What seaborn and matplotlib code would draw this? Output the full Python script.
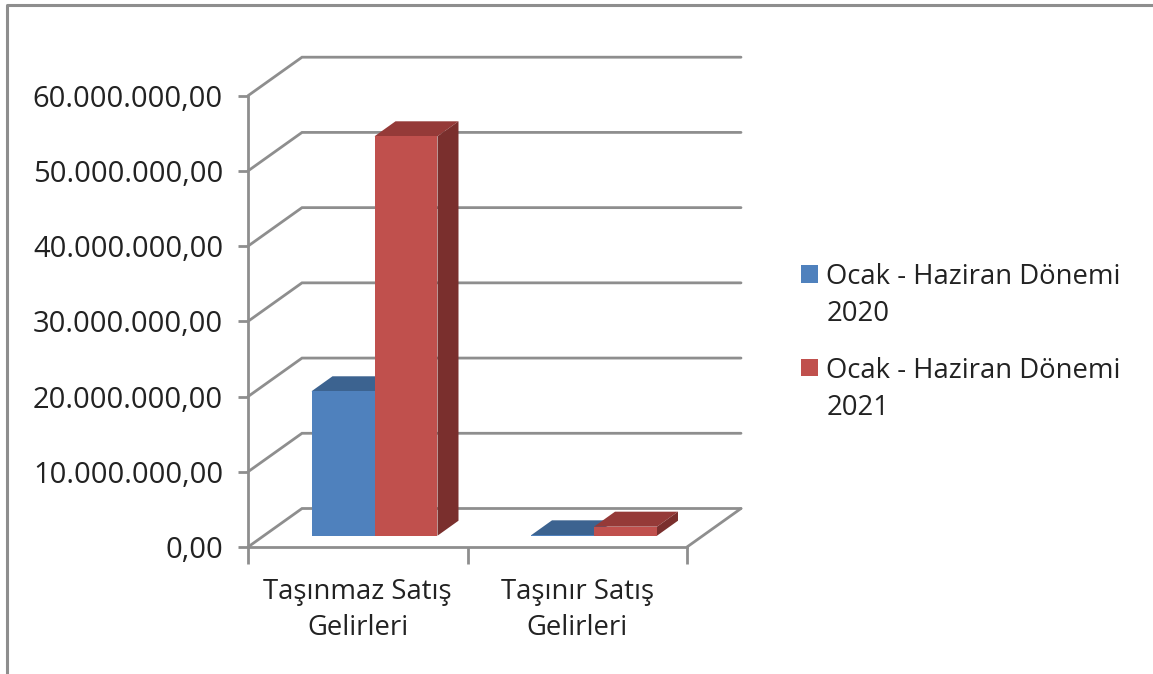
"""3D-look column chart: sales income, Jan-Jun 2020 vs 2021."""
import pandas as pd
import matplotlib.pyplot as plt
import seaborn as sns
from matplotlib.lines import Line2D
from matplotlib.patches import Polygon

categories = ["Taşınmaz Satış\nGelirleri", "Taşınır Satış\nGelirleri"]
series_names = ["Ocak - Haziran Dönemi\n2020", "Ocak - Haziran Dönemi\n2021"]
values_2020 = [19200000, 50000]
values_2021 = [53100000, 1200000]
y_ticks = [0, 10000000, 20000000, 30000000, 40000000, 50000000, 60000000]
y_labels = ["0,00", "10.000.000,00", "20.000.000,00", "30.000.000,00",
            "40.000.000,00", "50.000.000,00", "60.000.000,00"]

W, H = 1153, 674
GRAY = "#8e8e8e"
TEXT = "#222222"
LW = 2.0
colors = ["#4F81BD", "#C0504D"]
top_colors = ["#3C6390", "#953A38"]
side_colors = ["#335479", "#7A2F2D"]

sns.set_theme(style="white")
plt.rcParams["font.family"] = ["Open Sans", "DejaVu Sans"]


def px_axes(fig, left, right, top, bottom):
    return fig.add_axes([left / W, 1 - bottom / H, (right - left) / W, (bottom - top) / H])


fig = plt.figure(figsize=(W / 100, H / 100), dpi=100, facecolor="white")

# outer frame, only top and left are visible in the crop
fig.add_artist(Line2D([7 / W, 7 / W, 1], [0, 1 - 4.5 / H, 1 - 4.5 / H], color=GRAY, lw=2.2))

# front axis with ticks and labels, walls are drawn from it
ax = px_axes(fig, 248, 687, 95.7, 547)
ax.set_xlim(-0.5, 1.5)
ax.set_ylim(0, 60000000)
ax.patch.set_alpha(0)
ax.set_zorder(1)
for s in ["top", "right"]:
    ax.spines[s].set_visible(False)
for s in ["left", "bottom"]:
    ax.spines[s].set_color(GRAY)
    ax.spines[s].set_linewidth(LW)
ax.set_yticks(y_ticks, y_labels)
ax.set_xticks([-0.5, 0.5, 1.5], ["", "", ""])
ax.set_xticks([0, 1], categories, minor=True)
ax.tick_params(axis="y", left=True, length=7, width=LW, color=GRAY, pad=11, labelsize=21, labelcolor=TEXT)
ax.tick_params(axis="x", which="major", bottom=True, length=12, width=LW, color=GRAY)
ax.tick_params(axis="x", which="minor", bottom=False, length=0, pad=22, labelsize=19.8, labelcolor=TEXT)
for t in ax.get_xticklabels(minor=True):
    t.set_linespacing(1.39)

wall_dx = 54 / (439 / 2)
wall_dy = 38.5 / (451.3 / 60000000)
for t in y_ticks:
    ax.plot([-0.5, -0.5 + wall_dx, 1.5 + wall_dx], [t, t + wall_dy, t + wall_dy],
            color=GRAY, lw=LW, clip_on=False, solid_joinstyle="miter")
ax.plot([1.5, 1.5 + wall_dx], [0, wall_dy], color=GRAY, lw=LW, clip_on=False)

# bars sit a bit behind the front axis
bar_ax = px_axes(fig, 264.75, 703.75, 84.4, 535.7)
bar_ax.patch.set_alpha(0)
bar_ax.set_zorder(2)
df = pd.DataFrame({
    "category": categories * 2,
    "value": values_2020 + values_2021,
    "series": [series_names[0]] * 2 + [series_names[1]] * 2,
})
sns.barplot(data=df, x="category", y="value", hue="series", palette=colors, width=0.574,
            gap=0, saturation=1, ax=bar_ax, linewidth=0)
bar_ax.set_xlim(-0.5, 1.5)
bar_ax.set_ylim(0, 60000000)
bar_ax.axis("off")

# top and side faces from the bars themselves
bar_dx = 21 / (439 / 2)
bar_dy = 15 / (451.3 / 60000000)
for i, cont in enumerate(bar_ax.containers):
    for b in cont:
        b.set_zorder(5)
        b.set_clip_on(False)
        x0, x1, h = b.get_x(), b.get_x() + b.get_width(), b.get_height()
        bar_ax.add_patch(Polygon([(x0, h), (x1, h), (x1 + bar_dx, h + bar_dy), (x0 + bar_dx, h + bar_dy)],
                                 fc=top_colors[i], ec="none", zorder=2 + i, clip_on=False))
        bar_ax.add_patch(Polygon([(x1, 0), (x1 + bar_dx, bar_dy), (x1 + bar_dx, h + bar_dy), (x1, h)],
                                 fc=side_colors[i], ec="none", zorder=2 + i, clip_on=False))

leg = bar_ax.legend(loc="upper left", bbox_to_anchor=(801 / W, 1 - 263 / H),
                    bbox_transform=fig.transFigure, frameon=False, fontsize=19.8, labelcolor=TEXT,
                    handlelength=0.62, handleheight=0.62, handletextpad=0.3, labelspacing=1.03,
                    borderpad=0, borderaxespad=0)
for t in leg.get_texts():
    t.set_linespacing(1.44)
# keep each square beside the first text line
for h in leg.legend_handles:
    h.set_y(h.get_y() + 16.2)

plt.savefig("out.png", dpi=100)
plt.close()
